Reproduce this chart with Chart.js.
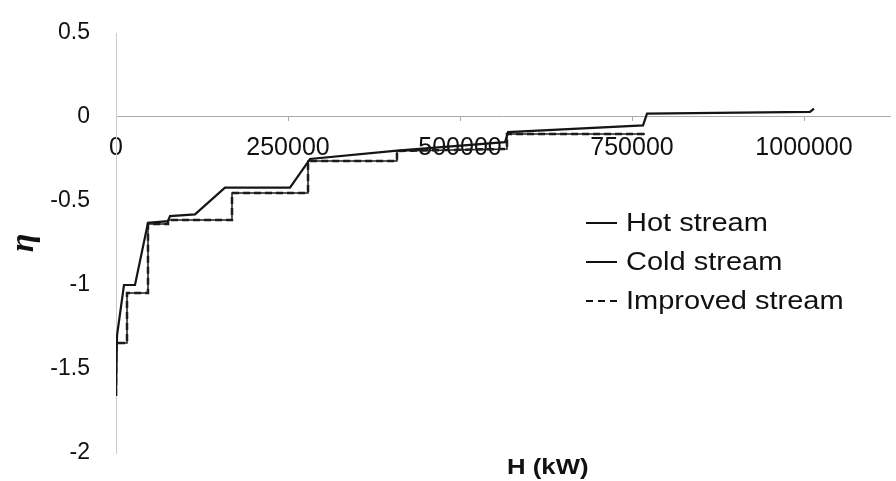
<!DOCTYPE html>
<html>
<head>
<meta charset="utf-8">
<script src="https://cdn.jsdelivr.net/npm/chart.js@4.4.1/dist/chart.umd.min.js"></script>
<style>
html,body{margin:0;padding:0;background:#fff;}
#wrap{position:relative;width:896px;height:481px;overflow:hidden;}
#legend{position:absolute;left:586px;top:203px;font-family:"Liberation Sans",Arial,sans-serif;font-size:25px;color:#111;line-height:39px;}
.item{display:flex;align-items:center;white-space:nowrap;}
.mark{display:inline-block;width:31px;height:2px;margin-right:9px;}
.txt{display:inline-block;transform:scaleX(1.16);transform-origin:0 50%;}
#xtitle{position:absolute;left:507px;top:454px;transform:scaleX(1.17);transform-origin:0 50%;font:bold 22px "Liberation Sans",Arial,sans-serif;color:#111;white-space:nowrap;}
</style>
</head>
<body>
<div id="wrap">
<canvas id="c" width="896" height="481"></canvas>
<div id="legend"></div>
<div id="xtitle"></div>
</div>
<script>
// ---- data ----
const seriesNames = ['Hot stream', 'Cold stream', 'Improved stream'];

const hotH   = [0, 1500, 11600, 27600, 46500, 75600, 78500, 114800, 158400, 252900, 282000, 408400, 565400, 569800, 766000, 771800, 1008700, 1014500];
const hotEta = [-1.66, -1.30, -1.00, -1.00, -0.63, -0.62, -0.59, -0.58, -0.42, -0.42, -0.25, -0.20, -0.15, -0.09, -0.05, 0.02, 0.03, 0.05];

const coldH   = [0, 0, 16000, 16000, 46500, 46500, 75600, 75600, 168600, 168600, 279100, 279100, 408400, 408400, 568300, 568300, 768900];
const coldEta = [-1.66, -1.345, -1.345, -1.048, -1.048, -0.637, -0.637, -0.613, -0.613, -0.452, -0.452, -0.262, -0.262, -0.202, -0.19, -0.101, -0.101];

const improvedH   = [0, 0, 16000, 16000, 46500, 46500, 75600, 75600, 168600, 168600, 279100, 279100, 408400, 408400, 568300, 568300, 768900];
const improvedEta = [-1.66, -1.345, -1.345, -1.048, -1.048, -0.637, -0.637, -0.613, -0.613, -0.452, -0.452, -0.262, -0.262, -0.202, -0.19, -0.101, -0.101];

const xTickValues = [0, 250000, 500000, 750000, 1000000];
const xTickLabels = ['0', '250000', '500000', '750000', '1000000'];
const yTickValues = [-2, -1.5, -1, -0.5, 0, 0.5];
const yTickLabels = ['-2', '-1.5', '-1', '-0.5', '0', '0.5'];
const xTitle = 'H (kW)';
const yTitle = 'η';

// ---- build ----
const toPts = (xs, ys) => xs.map((x, i) => ({x: x, y: ys[i]}));
const FONT = '"Liberation Sans", Arial, sans-serif';

const datasets = [
  {label: seriesNames[0], data: toPts(hotH, hotEta), borderColor: '#151515', borderWidth: 2.2, borderDash: []},
  {label: seriesNames[1], data: toPts(coldH, coldEta), borderColor: '#202020', borderWidth: 1.5, borderDash: []},
  {label: seriesNames[2], data: toPts(improvedH, improvedEta), borderColor: '#151515', borderWidth: 2.5, borderDash: [7, 4]}
].map(d => Object.assign(d, {showLine: true, pointRadius: 0, fill: false, tension: 0}));

new Chart(document.getElementById('c').getContext('2d'), {
  type: 'scatter',
  data: {datasets: datasets},
  options: {
    responsive: false,
    animation: false,
    devicePixelRatio: 1,
    layout: {padding: {top: 33, bottom: 28, right: 6, left: 0}},
    plugins: {legend: {display: false}, tooltip: {enabled: false}},
    scales: {
      x: {
        type: 'linear',
        position: {y: 0},
        min: 0,
        max: 1125000,
        afterBuildTicks: s => { s.ticks = xTickValues.map(v => ({value: v})); },
        ticks: {
          callback: (v, i) => xTickLabels[i],
          font: {family: FONT, size: 25},
          color: '#111',
          padding: 12,
          maxRotation: 0,
          autoSkip: false
        },
        grid: {display: true, drawOnChartArea: false, drawTicks: true, tickLength: 4, color: '#aaa'},
        border: {display: true, color: '#aaa', dash: [2, 2], width: 1}
      },
      y: {
        type: 'linear',
        min: -2,
        max: 0.5,
        afterBuildTicks: s => { s.ticks = yTickValues.map(v => ({value: v})); },
        afterFit: s => { s.width = 116; },
        ticks: {
          callback: (v, i) => yTickLabels[i],
          font: {family: FONT, size: 23},
          color: '#111',
          padding: 0
        },
        title: {
          display: true,
          text: yTitle,
          font: {family: '"Liberation Serif", "DejaVu Serif", serif', size: 34, weight: 'bold', style: 'italic'},
          color: '#111',
          padding: {top: 4, bottom: 0}
        },
        grid: {display: true, drawOnChartArea: false, drawTicks: true, tickLength: 26, tickColor: 'rgba(0,0,0,0)', color: '#bbb'},
        border: {display: true, color: '#ccc', dash: [2, 2], width: 1}
      }
    }
  }
});

// legend (HTML text) and x title
const legend = document.getElementById('legend');
datasets.forEach(d => {
  const row = document.createElement('div');
  row.className = 'item';
  const m = document.createElement('span');
  m.className = 'mark';
  m.style.background = d.borderDash.length
    ? 'repeating-linear-gradient(90deg,#111 0 7px,transparent 7px 12px)'
    : '#111';
  const t = document.createElement('span');
  t.className = 'txt';
  t.textContent = d.label;
  row.appendChild(m);
  row.appendChild(t);
  legend.appendChild(row);
});
document.getElementById('xtitle').textContent = xTitle;
</script>
</body>
</html>
